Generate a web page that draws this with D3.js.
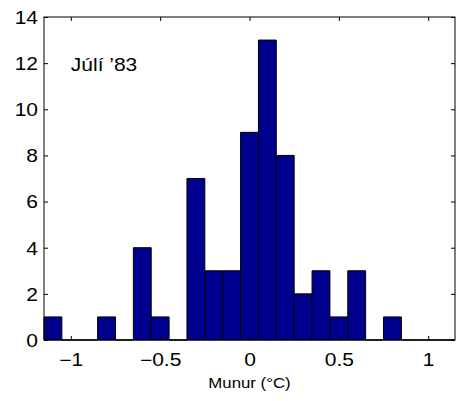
<!DOCTYPE html>
<html>
<head>
<meta charset="utf-8">
<script src="https://cdn.jsdelivr.net/npm/d3@7"></script>
<style>
  body { margin: 0; background: #fff; }
  text { font-family: "Liberation Sans", Arial, Helvetica, sans-serif; fill: #000; }
</style>
</head>
<body>
<div id="chart"></div>
<script>
// histogram bins (centres) and counts
var binCenters = [-1.1, -1.0, -0.9, -0.8, -0.7, -0.6, -0.5, -0.4, -0.3, -0.2, -0.1,
    0.0, 0.1, 0.2, 0.3, 0.4, 0.5, 0.6, 0.7, 0.8, 0.9, 1.0, 1.1]
var counts = [1, 0, 0, 1, 0, 4, 1, 0, 7, 3, 3, 9, 13, 8, 2, 3, 1, 3, 0, 1, 0, 0, 0]
var binWidth = 0.1

var xTicks = [-1, -0.5, 0, 0.5, 1]
var xTickLabels = ["\u22121", "\u22120.5", "0", "0.5", "1"]
var yTicks = [0, 2, 4, 6, 8, 10, 12, 14]
var xDomain = [-1.15, 1.15]
var yDomain = [0, 14]

var title = "Júlí ’83"
var xLabel = "Munur (°C)"

var width = 458, height = 401
var margin = { top: 17, right: 3, bottom: 61, left: 44 }
var stretch = 1.2   // the source figure's text is a bit wide

var svg = d3.select("#chart").append("svg")
    .attr("width", width)
    .attr("height", height)

var x = d3.scaleLinear().domain(xDomain).range([margin.left, width - margin.right])
var y = d3.scaleLinear().domain(yDomain).range([height - margin.bottom, margin.top])

// bars (zero bins drawn as a flat outline like MATLAB's hist)
svg.append("g")
    .selectAll("path")
    .data(binCenters)
    .enter()
    .append("path")
    .attr("d", function(c, i) {
        var x0 = x(c - binWidth / 2), x1 = x(c + binWidth / 2)
        var y0 = y(0), y1 = y(counts[i])
        return "M" + x0 + "," + y0 + "V" + y1 + "H" + x1 + "V" + y0 + "Z"
    })
    .attr("fill", "#00008f")
    .attr("stroke", "#000")
    .attr("stroke-width", 1)

// axes with inward ticks, box on all four sides
var tickLen = 4
function styleAxis(g) {
    g.select(".domain").remove()
    g.selectAll("line").attr("stroke", "#000")
}

var xAxis = svg.append("g")
    .attr("transform", "translate(0," + y(0) + ")")
    .call(d3.axisBottom(x).tickValues(xTicks).tickSizeInner(-tickLen).tickSizeOuter(0)
        .tickFormat(function(d, i) { return xTickLabels[i] }))
    .call(styleAxis)
xAxis.selectAll("text")
    .attr("y", 0)
    .attr("dy", 0)
    .attr("font-size", 17.5)
    .attr("transform", "translate(0,26) scale(" + stretch + ",1)")

svg.append("g")
    .attr("transform", "translate(0," + y(yDomain[1]) + ")")
    .call(d3.axisTop(x).tickValues(xTicks).tickSizeInner(-tickLen).tickSizeOuter(0)
        .tickFormat(""))
    .call(styleAxis)

var yAxis = svg.append("g")
    .attr("transform", "translate(" + x(xDomain[0]) + ",0)")
    .call(d3.axisLeft(y).tickValues(yTicks).tickSizeInner(-tickLen).tickSizeOuter(0))
    .call(styleAxis)
yAxis.selectAll("text")
    .attr("x", 0)
    .attr("dy", "0.36em")
    .attr("font-size", 17.5)
    .attr("transform", "translate(-6,0) scale(" + stretch + ",1)")

svg.append("g")
    .attr("transform", "translate(" + x(xDomain[1]) + ",0)")
    .call(d3.axisRight(y).tickValues(yTicks).tickSizeInner(-tickLen).tickSizeOuter(0)
        .tickFormat(""))
    .call(styleAxis)

// frame
svg.append("rect")
    .attr("x", x(xDomain[0]))
    .attr("y", y(yDomain[1]))
    .attr("width", x(xDomain[1]) - x(xDomain[0]))
    .attr("height", y(yDomain[0]) - y(yDomain[1]))
    .attr("fill", "none")
    .attr("stroke", "#000")
    .attr("stroke-width", 1)

// annotation inside the plot
svg.append("text")
    .attr("transform", "translate(" + x(-1) + "," + y(11.65) + ") scale(" + stretch + ",1)")
    .attr("font-size", 17.5)
    .text(title)

// x label
svg.append("text")
    .attr("transform", "translate(" + x(0) + ",388) scale(" + stretch + ",1)")
    .attr("text-anchor", "middle")
    .attr("font-size", 14)
    .text(xLabel)
</script>
</body>
</html>
